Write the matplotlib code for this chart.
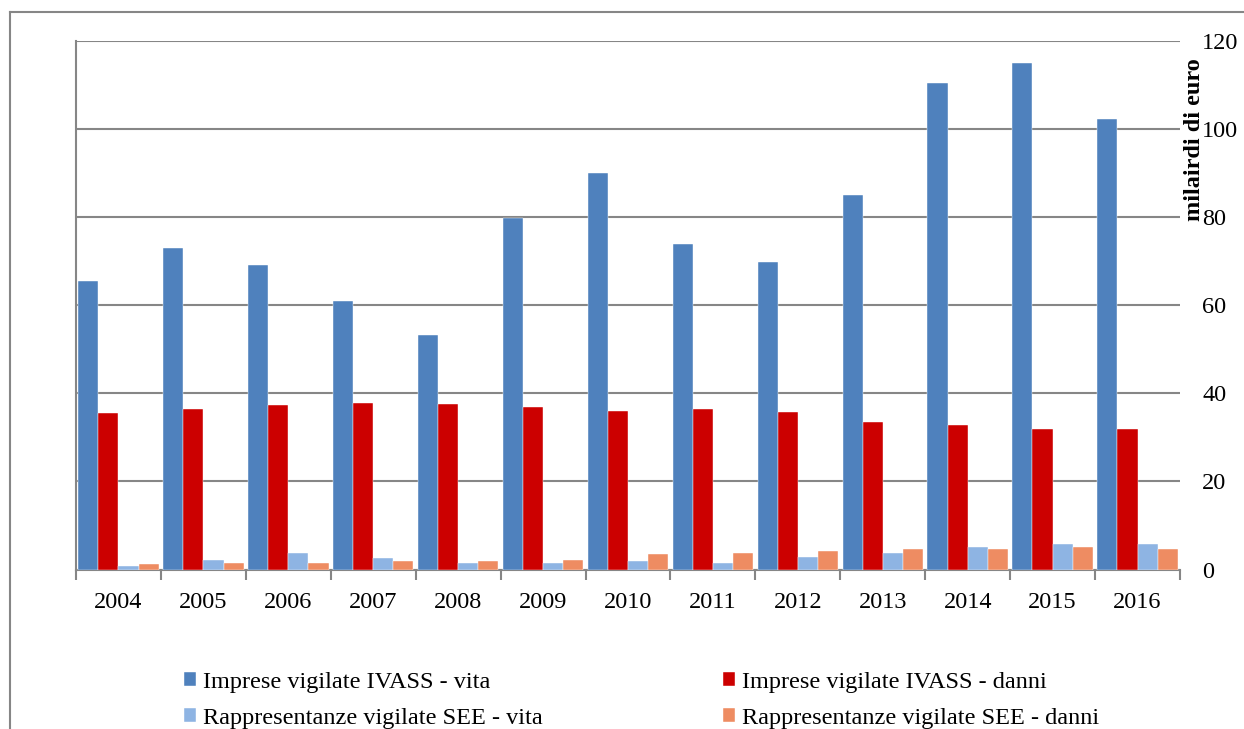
import matplotlib
matplotlib.use("Agg")
import matplotlib.pyplot as plt
import numpy as np
from matplotlib.lines import Line2D

years = ["2004", "2005", "2006", "2007", "2008", "2009", "2010",
         "2011", "2012", "2013", "2014", "2015", "2016"]
ivass_vita = [65.5, 73.0, 69.1, 60.9, 53.2, 79.8, 90.0, 73.9, 69.8, 85.0, 110.5, 115.0, 102.3]
ivass_danni = [35.5, 36.4, 37.3, 37.7, 37.5, 36.8, 35.9, 36.4, 35.7, 33.6, 32.7, 32.0, 32.0]
see_vita = [0.7, 2.1, 3.8, 2.5, 1.4, 1.4, 1.9, 1.4, 2.9, 3.8, 5.1, 5.9, 5.7]
see_danni = [1.2, 1.4, 1.4, 1.9, 1.9, 2.1, 3.6, 3.75, 4.3, 4.55, 4.7, 5.0, 4.55]
series_names = ["Imprese vigilate IVASS - vita", "Imprese vigilate IVASS - danni",
                "Rappresentanze vigilate SEE - vita", "Rappresentanze vigilate SEE - danni"]
colors = ["#4F81BD", "#CC0000", "#8EB4E3", "#EE8C62"]
yticks = [0, 20, 40, 60, 80, 100, 120]

plt.rcParams['font.family'] = ['Liberation Serif', 'DejaVu Serif']
FS = 17.5

W, H = 1244, 729
fig = plt.figure(figsize=(W / 100, H / 100), dpi=100)
ax = fig.add_axes([76 / W, 1 - 569.5 / H, (1180 - 76) / W, (569.5 - 41) / H])

x = np.arange(len(years))
bw = 0.237
data = [ivass_vita, ivass_danni, see_vita, see_danni]
bars = []
for i, (vals, c, name) in enumerate(zip(data, colors, series_names)):
    b = ax.bar(x + (i - 1.5) * bw, vals, width=bw, color=c, label=name, zorder=3,
               edgecolor='white', linewidth=0.3)
    bars.append(b)

ax.set_xlim(-0.5, len(years) - 0.5)
ax.set_ylim(0, 120)
ax.yaxis.tick_right()
ax.set_yticks(yticks)
ax.set_yticklabels([str(v) for v in yticks], fontsize=FS)
ax.tick_params(axis='y', length=0, pad=16)
ax.grid(axis='y', color='#868686', linewidth=1.5, zorder=0)
ax.set_axisbelow(True)

ax.set_xticks(x)
ax.set_xticklabels(years, fontsize=FS)
ax.set_xticks(np.arange(-0.5, len(years), 1.0), minor=True)
ax.tick_params(axis='x', which='major', length=0, pad=16)
ax.tick_params(axis='x', which='minor', length=7, width=1.5, color='#868686', direction='out')

for s in ['top', 'right']:
    ax.spines[s].set_visible(False)
for s in ['left', 'bottom']:
    ax.spines[s].set_color('#868686')
    ax.spines[s].set_linewidth(1.5)

fig.text(1194 / W, 1 - 140 / H, "milairdi di euro", rotation=90, fontsize=FS,
         fontweight='bold', ha='center', va='center')

# legends
common = dict(loc='upper left', frameon=False, fontsize=FS, handlelength=0.5,
              handleheight=0.5, handletextpad=0.3, labelspacing=0.6,
              borderpad=0, borderaxespad=0)
fig.legend([bars[0], bars[2]], [series_names[0], series_names[2]],
           bbox_to_anchor=(184 / W, 1 - 672 / H), **common)
fig.legend([bars[1], bars[3]], [series_names[1], series_names[3]],
           bbox_to_anchor=(723 / W, 1 - 672 / H), **common)

# outer frame (left and top edges)
fig.add_artist(Line2D([9.5 / W, 9.5 / W], [0, 1 - 12 / H], transform=fig.transFigure,
                      color='#868686', linewidth=1.5))
fig.add_artist(Line2D([9.5 / W, 1], [1 - 12 / H, 1 - 12 / H], transform=fig.transFigure,
                      color='#868686', linewidth=1.5))

fig.savefig("out.png", dpi=100)
